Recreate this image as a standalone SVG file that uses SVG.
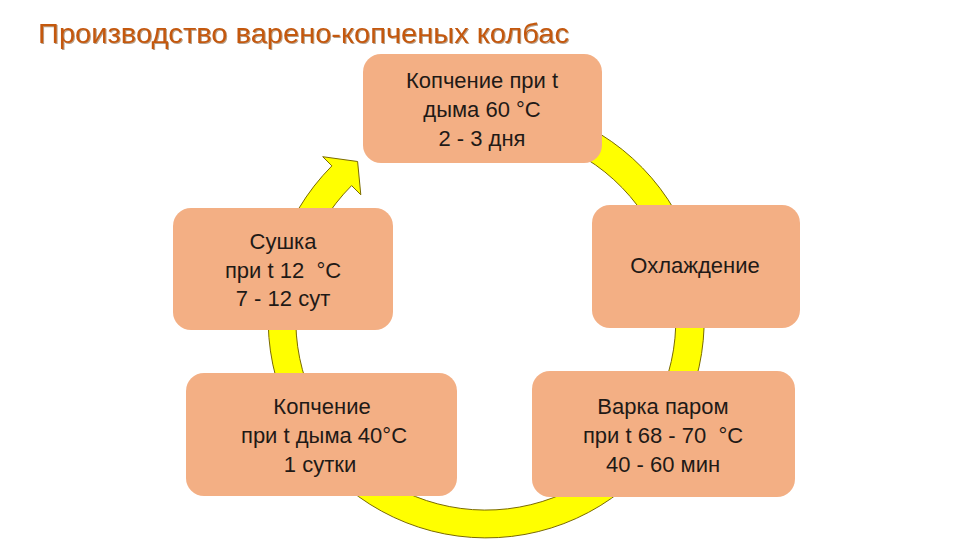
<svg xmlns="http://www.w3.org/2000/svg" width="960" height="540" viewBox="0 0 960 540">
  <defs>
    <style>
      .node rect { fill: #F3AF84; }
      .node text { font-family: "Liberation Sans", Arial, sans-serif; font-size: 22px; fill: #1f1a17; text-anchor: middle; }
      .title { font-family: "Liberation Sans", Arial, sans-serif; font-size: 28px; fill: #C4580F; }
      .ring { fill: #FFFF00; stroke: #7A6A00; stroke-width: 1; stroke-linejoin: miter; }
    </style>
    <filter id="tshadow" x="-5%" y="-30%" width="110%" height="160%">
      <feDropShadow dx="1" dy="1" stdDeviation="0.6" flood-color="#5a2a00" flood-opacity="0.45"/>
    </filter>
  </defs>
  <rect width="960" height="540" fill="#FFFFFF"/>
  <text class="title" x="38" y="43" textLength="531" lengthAdjust="spacingAndGlyphs" filter="url(#tshadow)">Производство варено-копченых колбас</text>

  <g id="connectors">
    <path class="ring" d="M 393.9 122.4 A 218 218 0 1 1 331.9 165.9 L 322.7 156.7 L 357.6 161.5 L 360.8 194.8 L 351.6 185.6 A 190 190 0 1 0 405.7 147.8 Z"/>
  </g>

  <g id="node-top" class="node">
    <rect x="363" y="54" width="239" height="109" rx="18" ry="18"/>
    <text x="482" y="88">Копчение при t</text>
    <text x="482" y="117">дыма 60 °C</text>
    <text x="482" y="146">2 - 3 дня</text>
  </g>

  <g id="node-right" class="node">
    <rect x="592" y="205" width="208" height="123" rx="18" ry="18"/>
    <text x="695" y="273">Охлаждение</text>
  </g>

  <g id="node-bottom-right" class="node">
    <rect x="532" y="371" width="263" height="126" rx="18" ry="18"/>
    <text x="663" y="414">Варка паром</text>
    <text x="663" y="443" xml:space="preserve">при t 68 - 70  °C</text>
    <text x="663" y="472">40 - 60 мин</text>
  </g>

  <g id="node-bottom-left" class="node">
    <rect x="186" y="373" width="271" height="123" rx="18" ry="18"/>
    <text x="322" y="414">Копчение</text>
    <text x="324" y="443">при t дыма 40°C</text>
    <text x="320" y="472">1 сутки</text>
  </g>

  <g id="node-left" class="node">
    <rect x="173" y="208" width="220" height="122" rx="18" ry="18"/>
    <text x="283" y="249">Сушка</text>
    <text x="283" y="278" xml:space="preserve">при t 12  °C</text>
    <text x="283" y="306">7 - 12 сут</text>
  </g>
</svg>
